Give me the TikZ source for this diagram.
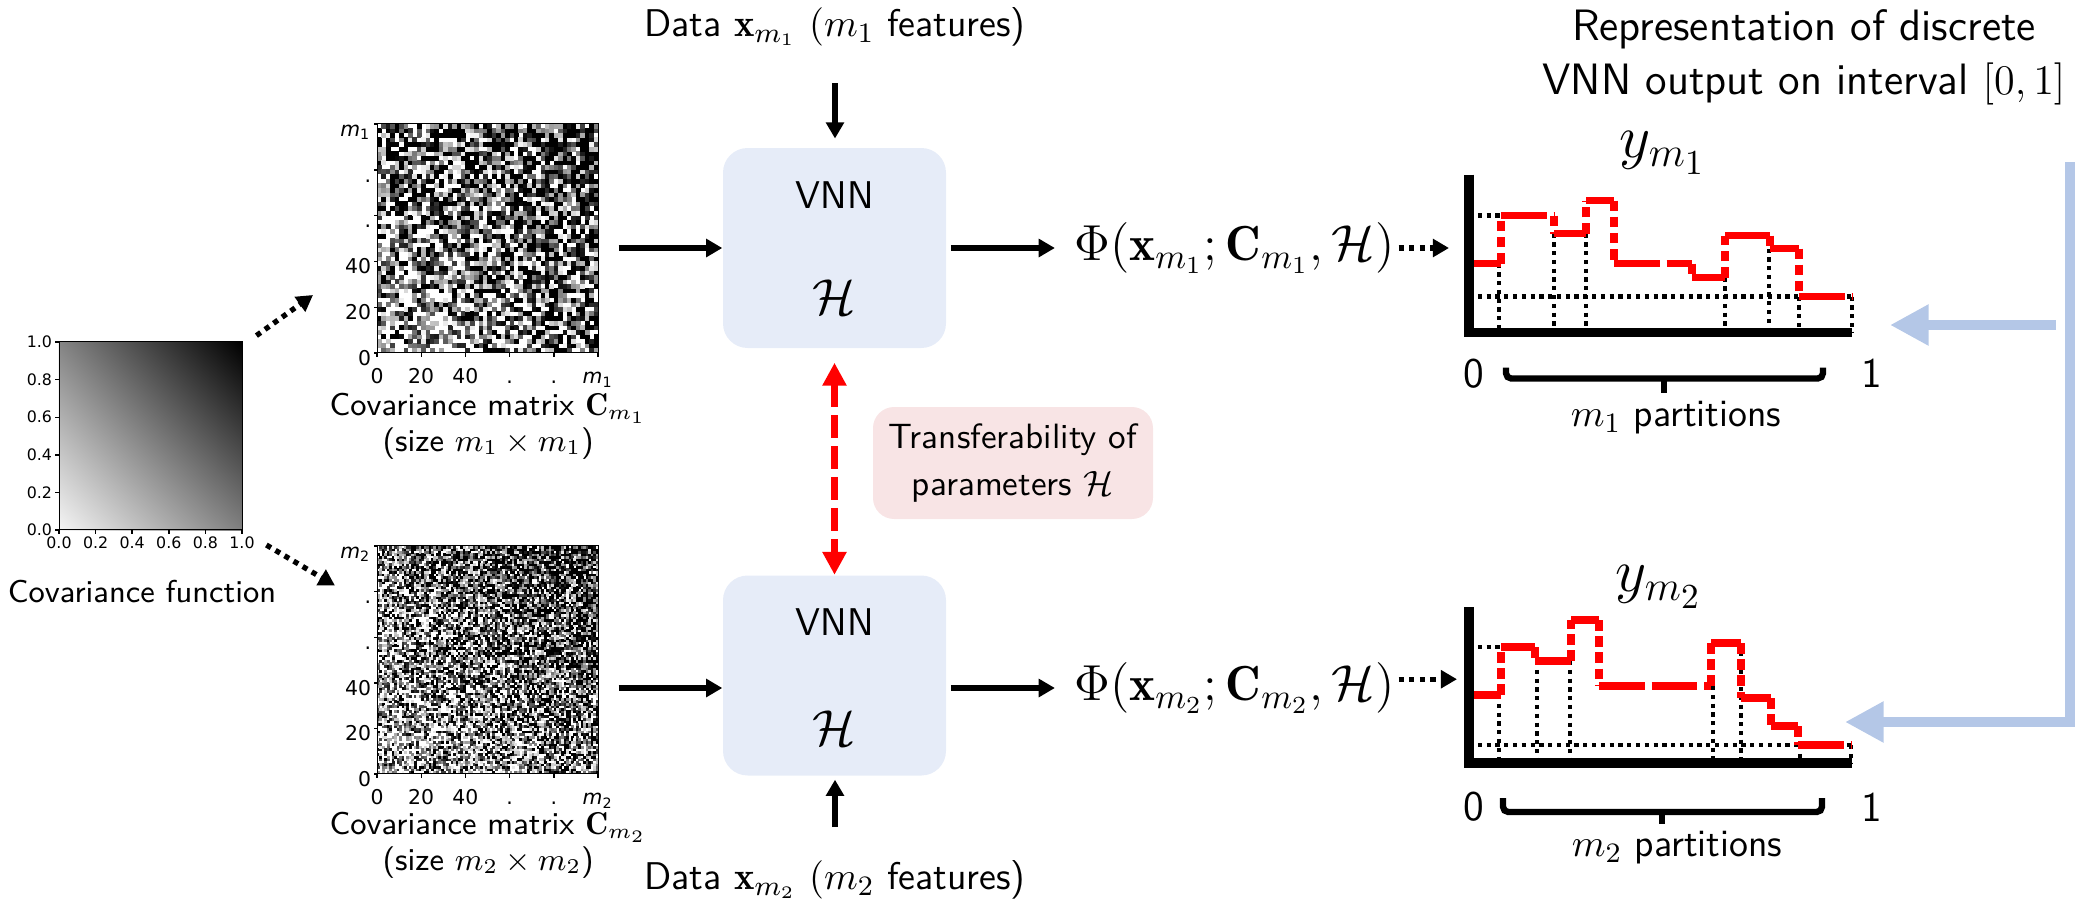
\documentclass[tikz,border=0pt]{standalone}
\usepackage{amsmath}
\usepackage{amssymb}
\usepackage{graphicx}
\usepackage{fontspec}
\newfontfamily\tickfont{DejaVu Sans}
\usetikzlibrary{arrows.meta,positioning,shadings}

\definecolor{vnnblue}{RGB}{230,236,248}
\definecolor{tfpink}{RGB}{248,228,229}
\definecolor{linkblue}{RGB}{180,199,231}

\newcommand{\msub}[1]{\textit{m}\textsubscript{#1}}

% grid of random grey cells, darker towards the upper right corner
\newcommand{\noisemap}[6]{%
  \pgfmathsetmacro\mapcw{#3/#5}%
  \pgfmathsetmacro\mapch{#4/#5}%
  \foreach \i in {1,...,#5}{%
    \foreach \j in {1,...,#5}{%
      \pgfmathsetmacro\maplvl{min(100,max(0,100*(0.08+0.84*(\i+\j)/(2*#5)+#6*rand)))}%
      \ifdim\maplvl pt>4pt
        \fill[black!\maplvl] ({#1+(\i-1)*\mapcw},{#2+(\j-1)*\mapch}) rectangle ++({\mapcw+0.004},{\mapch+0.004});
      \fi
    }%
  }%
}

\begin{document}
\begin{tikzpicture}[
  every node/.style={font=\sffamily},
  vnnbox/.style={fill=vnnblue, rounded corners=7pt, minimum width=2.23cm, minimum height=2cm, inner sep=0pt},
  tfbox/.style={fill=tfpink, rounded corners=6pt, minimum width=2.8cm, minimum height=1.12cm, align=center, font=\sffamily\fontsize{10}{13.4}\selectfont},
  matcaption/.style={align=center, inner sep=1pt, font=\sffamily\fontsize{9}{10.2}\selectfont},
  flow/.style={line width=1.6pt, -{Triangle[length=4.6pt,width=5pt]}},
  dotflow/.style={line width=1.5pt, dash pattern=on 1.5pt off 1.5pt, -{Triangle[length=4.6pt,width=5pt]}},
  tfarrow/.style={red, line width=2pt, dash pattern=on 6.5pt off 2.3pt, {Triangle[length=6.5pt,width=6.5pt]}-{Triangle[length=6.5pt,width=6.5pt]}},
  linkarrow/.style={linkblue, line width=3pt, -{Triangle[length=11pt,width=11pt]}},
  axisline/.style={line width=2.8pt},
  guideline/.style={line width=1.2pt, dash pattern=on 1.2pt off 1.3pt},
  redstep/.style={red, line width=2pt, dash pattern=on 13pt off 2pt},
  redrise/.style={red, line width=2pt, dash pattern=on 3pt off 1.6pt},
  partbrace/.style={line width=1.8pt, rounded corners=1.5pt},
  mattick/.style={line width=0.4pt},
  ticklabel/.style={font=\tickfont\fontsize{5.8}{5.8}\selectfont, inner sep=0.5pt, text height=0.7em, text depth=0pt},
  covtick/.style={font=\tickfont\fontsize{4.5}{4.5}\selectfont, inner sep=0.8pt},
  numlabel/.style={font=\sffamily\fontsize{12}{14}\selectfont},
  partlabel/.style={font=\sffamily\fontsize{11}{13}\selectfont},
  datalabel/.style={font=\sffamily\fontsize{11}{13}\selectfont},
  philabel/.style={font=\fontsize{14}{16}\selectfont, inner sep=1pt, anchor=west},
]
\useasboundingbox (0,0) rectangle (20.86,9.08);
\pgfmathsetseed{7}

% covariance function
\shade[lower left=black!4, upper right=black, upper left=black!48, lower right=black!50] (0.59,3.78) rectangle (2.42,5.66);
\node[draw, line width=0.4pt, minimum width=1.83cm, minimum height=1.88cm, inner sep=0pt, anchor=south west] (covfun) at (0.59,3.78) {};
\foreach \k/\lab in {0/0.0,1/0.2,2/0.4,3/0.6,4/0.8,5/1.0}{
  \draw[mattick] ({0.59+\k*0.366},3.78) -- ++(0,-0.035) node[below, covtick] (covx\k) {\lab};
  \draw[mattick] (0.59,{3.78+\k*0.376}) -- ++(-0.035,0) node[left, covtick] (covy\k) {\lab};
}
\node[font=\sffamily\fontsize{9}{11}\selectfont] (covlabel) at (1.42,3.16) {Covariance function};

% covariance matrices
\begin{scope}[shift={(3.77,5.55)}]
  \noisemap{0}{0}{2.21}{2.29}{50}{1.0}
  \node[draw, line width=0.4pt, minimum width=2.21cm, minimum height=2.29cm, inner sep=0pt, anchor=south west] (mat1) at (0,0) {};
  \foreach \k/\lab in {0/0,1/20,2/40,3/.,4/.,5/\msub{1}}{
    \draw[mattick] ({\k*0.442},0) -- ++(0,-0.035) node[below, ticklabel] (mat1x\k) {\lab};
    \draw[mattick] (0,{\k*0.458}) -- ++(-0.035,0) node[left, ticklabel] (mat1y\k) {\lab};
  }
\end{scope}
\node[matcaption, below=0.36cm of mat1] (mat1label) {Covariance matrix $\mathbf{C}_{m_1}$\\(size $m_1\times m_1$)};

\begin{scope}[shift={(3.77,1.34)}]
  \noisemap{0}{0}{2.21}{2.28}{90}{0.95}
  \node[draw, line width=0.4pt, minimum width=2.21cm, minimum height=2.28cm, inner sep=0pt, anchor=south west] (mat2) at (0,0) {};
  \foreach \k/\lab in {0/0,1/20,2/40,3/.,4/.,5/\msub{2}}{
    \draw[mattick] ({\k*0.442},0) -- ++(0,-0.035) node[below, ticklabel] (mat2x\k) {\lab};
    \draw[mattick] (0,{\k*0.456}) -- ++(-0.035,0) node[left, ticklabel] (mat2y\k) {\lab};
  }
\end{scope}
\node[matcaption, below=0.34cm of mat2] (mat2label) {Covariance matrix $\mathbf{C}_{m_2}$\\(size $m_2\times m_2$)};

\draw[dotflow] ([shift={(0.13,0.05)}]covfun.north east) -- ([shift={(-0.64,0.58)}]mat1.south west);
\draw[dotflow] ([shift={(0.23,-0.15)}]covfun.south east) -- ([shift={(-0.42,-0.41)}]mat2.north west);

% the two VNNs
\node[vnnbox] (vnn1) at (8.345,6.60) {};
\node[font=\sffamily\fontsize{11}{13}\selectfont] (vnn1name) at ([yshift=0.53cm]vnn1.center) {VNN};
\node[font=\Large] (vnn1h) at ([yshift=-0.49cm]vnn1.center) {$\mathcal{H}$};
\node[vnnbox] (vnn2) at (8.345,2.325) {};
\node[font=\sffamily\fontsize{11}{13}\selectfont] (vnn2name) at ([yshift=0.535cm]vnn2.center) {VNN};
\node[font=\Large] (vnn2h) at ([yshift=-0.525cm]vnn2.center) {$\mathcal{H}$};

\node[datalabel] (data1) at (8.35,8.81) {Data $\mathbf{x}_{m_1}$ $(m_1$ features)};
\node[datalabel] (data2) at (8.35,0.28) {Data $\mathbf{x}_{m_2}$ $(m_2$ features)};
\draw[flow, shorten <=7pt, shorten >=2.5pt] (data1.south) -- (data1.south |- vnn1.north);
\draw[flow, shorten <=6pt, shorten >=1pt] (data2.north) -- (data2.north |- vnn2.south);

\node[tfbox] (transfer) at (10.13,4.45) {Transferability of\\parameters $\mathcal{H}$};
\draw[tfarrow, shorten <=4pt] (vnn1.south) -- (vnn2.north);

% outputs
\node[philabel] (phi1) at (10.70,6.60) {$\Phi(\mathbf{x}_{m_1};\mathbf{C}_{m_1},\mathcal{H})$};
\node[philabel] (phi2) at (10.70,2.20) {$\Phi(\mathbf{x}_{m_2};\mathbf{C}_{m_2},\mathcal{H})$};

\draw[flow] ([xshift=5.5pt]mat1.east |- vnn1) -- (vnn1.west);
\draw[flow] ([xshift=5.5pt]mat2.east |- phi2.west) -- (vnn2.west |- phi2.west);
\draw[flow, shorten >=4.3pt] ([xshift=1.2pt]vnn1.east) -- (phi1.west);
\draw[flow, shorten >=4.3pt] ([xshift=1.2pt]vnn2.east |- phi2.west) -- (phi2.west);

% step plots on [0,1]
\node[font=\sffamily\fontsize{12.5}{15.5}\selectfont, align=center] (heading) at (18.04,8.505) {Representation of discrete\\VNN output on interval $[0,1]$};

\begin{scope}[shift={(14.69,5.755)}]
  \coordinate (o1) at (0,0);
  \foreach \gx/\gy in {0.30/0.69, 0.85/0.99, 1.17/0.99, 2.56/0.55, 3.00/0.84, 3.30/0.36, 3.83/0.36}
    \draw[guideline] (\gx,\gy) -- (\gx,0);
  \draw[guideline] (0,1.17) -- (0.32,1.17);
  \draw[guideline] (0,0.36) -- (3.83,0.36);
  \foreach \xs/\la/\lb in {0.32/0.69/1.17, 0.85/1.17/0.99, 1.17/0.99/1.32, 1.45/1.32/0.69, 2.23/0.69/0.55, 2.56/0.55/0.97, 3.01/0.97/0.84, 3.30/0.84/0.36}
    \draw[redrise] (\xs,\la) -- (\xs,\lb);
  \foreach \xa/\xb/\lv in {0.01/0.32/0.69, 0.32/0.85/1.17, 0.85/1.17/0.99, 1.17/1.45/1.32, 1.45/2.23/0.69, 2.23/2.56/0.55, 2.56/3.01/0.97, 3.01/3.30/0.84, 3.30/3.83/0.36}
    \draw[redstep] (\xa,\lv) -- (\xb,\lv);
  \draw[axisline] (0,1.58) -- (0,0) -- (3.83,0);
  \node[font=\LARGE] (ylab1) at (1.94,1.795) {$y_{m_1}$};
  \node[numlabel] (zero1) at (0.05,-0.41) {0};
  \node[numlabel] (one1) at (4.03,-0.41) {1};
  \draw[partbrace] (0.37,-0.35) -- (0.37,-0.46) -- (3.54,-0.46) -- (3.54,-0.35);
  \draw[partbrace] (1.95,-0.46) -- (1.95,-0.60);
  \node[partlabel] (parts1) at (2.07,-0.855) {$m_1$ partitions};
\end{scope}

\begin{scope}[shift={(14.69,1.45)}]
  \coordinate (o2) at (0,0);
  \foreach \gx/\gy in {0.30/0.68, 0.68/1.02, 1.01/1.02, 2.44/0.77, 2.72/1.20, 3.31/0.18, 3.82/0.18}
    \draw[guideline] (\gx,\gy) -- (\gx,0);
  \draw[guideline] (0,1.16) -- (0.32,1.16);
  \draw[guideline] (0,0.18) -- (3.82,0.18);
  \foreach \xs/\la/\lb in {0.32/0.68/1.16, 0.66/1.16/1.02, 1.02/1.02/1.43, 1.30/1.43/0.77, 2.42/0.77/1.20, 2.72/1.20/0.65, 3.02/0.65/0.37, 3.29/0.37/0.18}
    \draw[redrise] (\xs,\la) -- (\xs,\lb);
  \foreach \xa/\xb/\lv in {0.02/0.32/0.68, 0.32/0.66/1.16, 0.66/1.02/1.02, 1.02/1.30/1.43, 1.30/2.42/0.77, 2.42/2.72/1.20, 2.72/3.02/0.65, 3.02/3.29/0.37, 3.29/3.82/0.18}
    \draw[redstep] (\xa,\lv) -- (\xb,\lv);
  \draw[axisline] (0,1.56) -- (0,0) -- (3.83,0);
  \node[font=\LARGE] (ylab2) at (1.90,1.76) {$y_{m_2}$};
  \node[numlabel] (zero2) at (0.05,-0.44) {0};
  \node[numlabel] (one2) at (4.03,-0.44) {1};
  \draw[partbrace] (0.34,-0.35) -- (0.34,-0.49) -- (3.53,-0.49) -- (3.53,-0.35);
  \draw[partbrace] (1.93,-0.49) -- (1.93,-0.61);
  \node[partlabel] (parts2) at (2.08,-0.85) {$m_2$ partitions};
\end{scope}

\draw[dotflow, shorten >=0.2cm] (phi1.east) -- (phi1.east -| o1);
\draw[dotflow, shorten >=0.12cm] ([yshift=2.5pt]phi2.east) -- ([yshift=2.5pt]phi2.east -| o2);

% shared output link
\coordinate (linktop) at (20.70,7.46);
\coordinate (linkbend) at (20.70,1.86);
\coordinate (tip1) at (18.90,5.83);
\coordinate (tip2) at (18.45,1.86);
\draw[linkarrow] (20.56,5.83) -- (tip1);
\draw[linkarrow] (linktop) -- (linkbend) -- (tip2);
\end{tikzpicture}
\end{document}
